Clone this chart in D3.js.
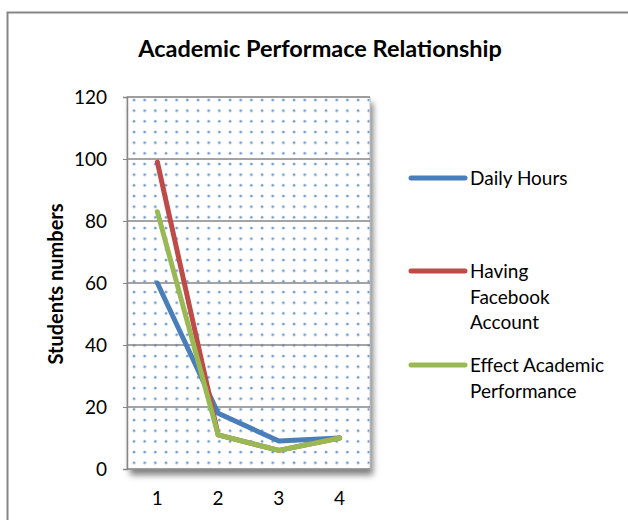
<!DOCTYPE html>
<html>
<head>
<meta charset="utf-8">
<script src="https://cdn.jsdelivr.net/npm/d3@7"></script>
<style>
  body { margin: 0; background: #fff; }
  text { font-family: Lato, "Open Sans", sans-serif; fill: #000; }
</style>
</head>
<body>
<div id="chart"></div>
<script>
// data
const categories = [1, 2, 3, 4];
const seriesNames = ["Daily Hours", "Having Facebook Account", "Effect Academic Performance"];
const dailyHours = [60, 18, 9, 10];
const havingFacebook = [99, 11, 6, 10];
const effectAcademic = [83, 11, 6, 10];
const yTicks = [0, 20, 40, 60, 80, 100, 120];
const legendLines = [["Daily Hours"], ["Having", "Facebook", "Account"], ["Effect Academic", "Performance"]];
const colors = ["#4a7ebb", "#be4b48", "#98b954"];

const W = 628, H = 520;
const plot = { left: 127, top: 97, right: 370, bottom: 469 };

const svg = d3.select("#chart").append("svg")
    .attr("width", W)
    .attr("height", H);

// outer chart border
svg.append("rect")
    .attr("x", 7.5).attr("y", 12.5)
    .attr("width", W + 10).attr("height", H + 10)
    .attr("fill", "#fff")
    .attr("stroke", "#868686")
    .attr("stroke-width", 2);

const defs = svg.append("defs");

// dotted fill of the plot area
const pat = defs.append("pattern")
    .attr("id", "dots")
    .attr("patternUnits", "userSpaceOnUse")
    .attr("x", plot.left + 2).attr("y", plot.top - 2)
    .attr("width", 10.67).attr("height", 10.67);
pat.append("rect").attr("width", 10.67).attr("height", 10.67).attr("fill", "#fff");
pat.append("circle").attr("cx", 5).attr("cy", 5).attr("r", 1.3).attr("fill", "#6f9bd3");

const shadow = defs.append("filter").attr("id", "shadow")
    .attr("x", "-10%").attr("y", "-10%").attr("width", "130%").attr("height", "130%");
shadow.append("feDropShadow")
    .attr("dx", 3).attr("dy", 6).attr("stdDeviation", 3)
    .attr("flood-color", "#000").attr("flood-opacity", 0.5);

// scales
const x = d3.scaleBand()
    .domain(categories)
    .range([plot.left, plot.right]);

const y = d3.scaleLinear()
    .domain([0, 120])
    .range([plot.bottom, plot.top]);

// plot area
svg.append("rect")
    .attr("x", plot.left).attr("y", plot.top)
    .attr("width", plot.right - plot.left)
    .attr("height", plot.bottom - plot.top)
    .attr("fill", "url(#dots)")
    .attr("filter", "url(#shadow)");

svg.append("rect")
    .attr("x", plot.left).attr("y", plot.top)
    .attr("width", plot.right - plot.left)
    .attr("height", plot.bottom - plot.top)
    .attr("fill", "url(#dots)")
    .attr("stroke", "#c8c8c8")
    .attr("stroke-width", 1);

// horizontal grid lines
svg.append("g")
    .selectAll("line")
    .data(yTicks)
    .join("line")
      .attr("x1", plot.left)
      .attr("x2", plot.right)
      .attr("y1", d => y(d))
      .attr("y2", d => y(d))
      .attr("stroke", "#868686")
      .attr("stroke-width", 1.5);

// y axis
const yAxis = svg.append("g")
    .attr("transform", `translate(${plot.left},0)`)
    .call(d3.axisLeft(y).tickValues(yTicks).tickSize(4).tickPadding(16));
yAxis.select(".domain").attr("stroke", "#868686").attr("stroke-width", 1.5);
yAxis.selectAll(".tick line").attr("stroke", "#868686");
yAxis.selectAll("text").style("font-size", "19px").attr("dy", "0.35em");

// x axis labels
const xAxis = svg.append("g")
    .attr("transform", `translate(0,${plot.bottom})`)
    .call(d3.axisBottom(x).tickSize(0).tickPadding(0));
xAxis.select(".domain").remove();
xAxis.selectAll("text")
    .style("font-size", "19px")
    .attr("y", 36)
    .attr("dy", 0);

// lines
const series = [dailyHours, havingFacebook, effectAcademic];
const line = d3.line()
    .x((d, i) => x(categories[i]) + x.bandwidth() / 2)
    .y(d => y(d));

svg.append("g")
    .selectAll("path")
    .data(series)
    .join("path")
      .attr("fill", "none")
      .attr("stroke", (d, i) => colors[i])
      .attr("stroke-width", 5)
      .attr("stroke-linecap", "round")
      .attr("stroke-linejoin", "round")
      .attr("d", d => line(d));

// title
svg.append("text")
    .attr("x", 320)
    .attr("y", 57)
    .attr("text-anchor", "middle")
    .style("font-size", "23.5px")
    .style("font-weight", "bold")
    .text("Academic Performace Relationship");

// y axis title
svg.append("text")
    .attr("transform", `translate(63,284) rotate(-90)`)
    .attr("text-anchor", "middle")
    .style("font-size", "20px")
    .style("font-weight", "bold")
    .text("Students numbers");

// legend
const legendY = [178, 271, 365];
const legend = svg.append("g")
    .selectAll("g")
    .data(seriesNames)
    .join("g")
      .attr("transform", (d, i) => `translate(411,${legendY[i]})`);

legend.append("line")
    .attr("x1", 0).attr("x2", 54)
    .attr("stroke", (d, i) => colors[i])
    .attr("stroke-width", 5)
    .attr("stroke-linecap", "round");

legend.append("text")
    .attr("x", 59)
    .attr("y", 7)
    .style("font-size", "19px")
    .selectAll("tspan")
    .data((d, i) => legendLines[i])
    .join("tspan")
      .attr("x", 59)
      .attr("dy", (d, j) => j === 0 ? 0 : 25.5)
      .text(d => d);
</script>
</body>
</html>
